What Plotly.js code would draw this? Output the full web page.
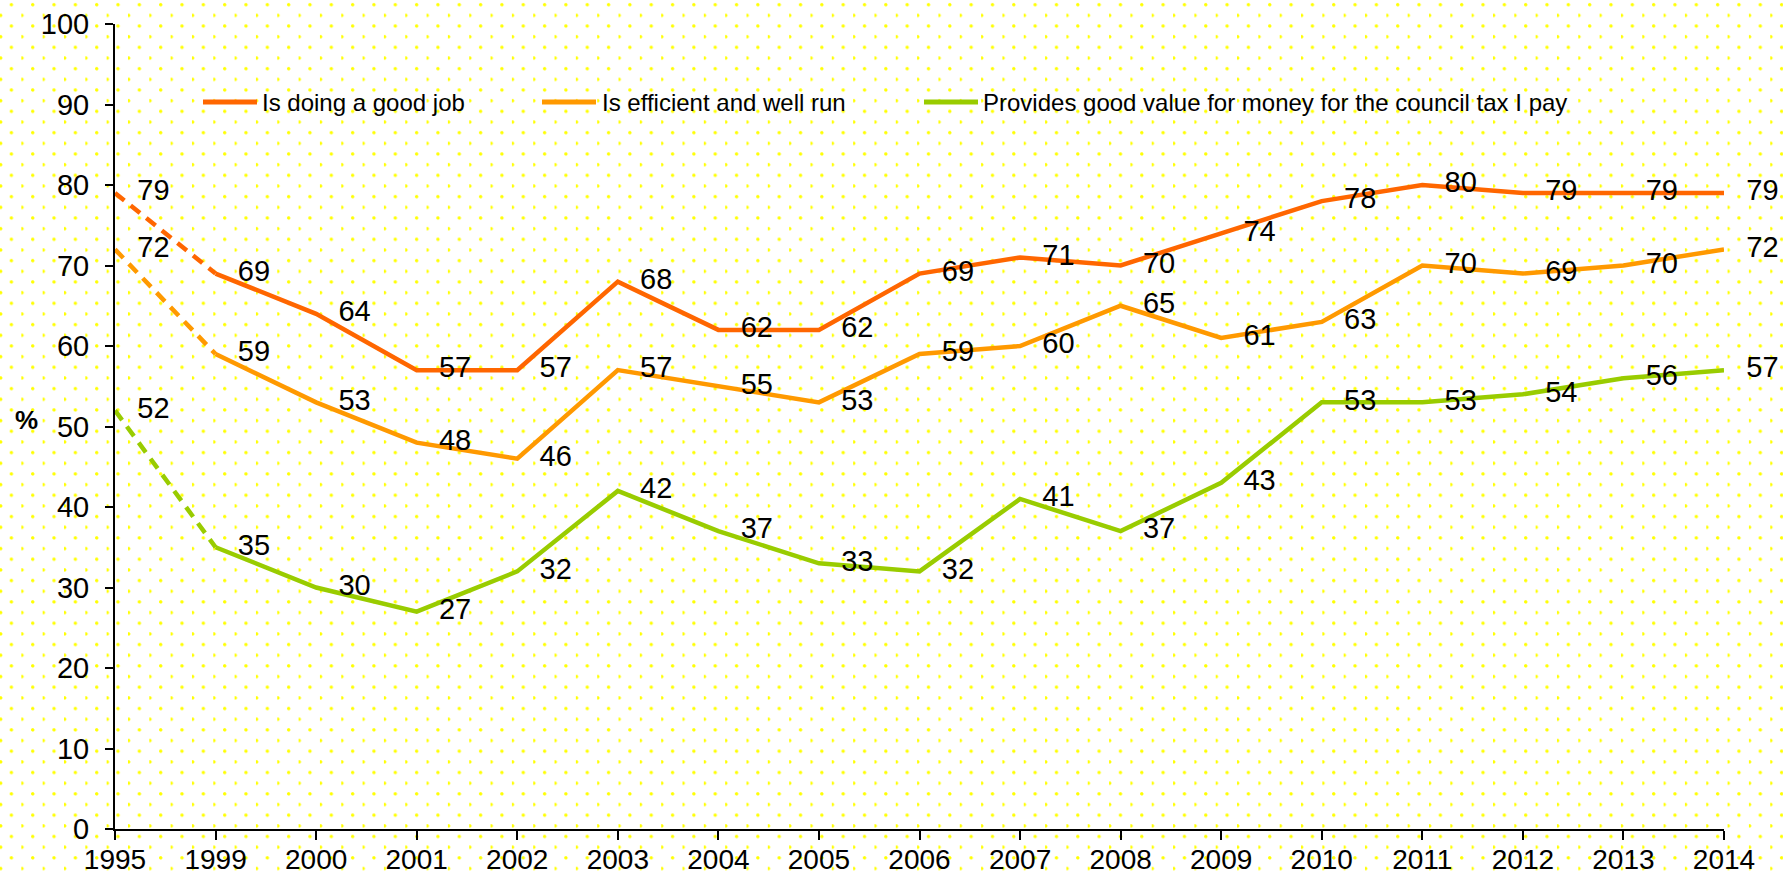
<!DOCTYPE html>
<html>
<head>
<meta charset="utf-8">
<script src="https://cdn.plot.ly/plotly-3.0.1.min.js"></script>
<style>
html, body { margin: 0; padding: 0; background: #ffffff; }
#chart {
  width: 1783px; height: 877px;
  background-color: #ffffff;
  background-image:
    radial-gradient(circle at 0.7px 15.4px, #ffff00 0px, #ffff00 1.2px, rgba(255,255,0,0) 2.1px),
    radial-gradient(circle at 11.4px 4.7px, #ffff00 0px, #ffff00 1.2px, rgba(255,255,0,0) 2.1px);
  background-size: 21.333px 21.333px;
}
</style>
</head>
<body>
<div id="chart"></div>
<script>
// ---- data ----
const years = ['1995','1999','2000','2001','2002','2003','2004','2005','2006','2007','2008','2009','2010','2011','2012','2013','2014'];
const goodJob       = [79, 69, 64, 57, 57, 68, 62, 62, 69, 71, 70, 74, 78, 80, 79, 79, 79];
const efficient     = [72, 59, 53, 48, 46, 57, 55, 53, 59, 60, 65, 61, 63, 70, 69, 70, 72];
const valueForMoney = [52, 35, 30, 27, 32, 42, 37, 33, 32, 41, 37, 43, 53, 53, 54, 56, 57];
const seriesNames = ['Is doing a good job', 'Is efficient and well run', 'Provides good value for money for the council tax I pay'];
const seriesColors = ['#FF6600', '#FF9900', '#99CC00'];
const yTickVals = [0, 10, 20, 30, 40, 50, 60, 70, 80, 90, 100];

const seriesValues = [goodJob, efficient, valueForMoney];
const FONT = 'Arial, "Liberation Sans", sans-serif';

const traces = [];
seriesValues.forEach((vals, i) => {
  // dashed first segment (1995 -> 1999)
  traces.push({
    type: 'scatter', mode: 'lines', x: years.slice(0, 2), y: vals.slice(0, 2),
    line: {color: seriesColors[i], width: 4.5, dash: '12px,8px'},
    name: seriesNames[i], showlegend: false, hoverinfo: 'skip'
  });
  // solid remainder
  traces.push({
    type: 'scatter', mode: 'lines', x: years.slice(1), y: vals.slice(1),
    line: {color: seriesColors[i], width: 4.5},
    name: seriesNames[i], showlegend: false
  });
});
seriesValues.forEach((vals, i) => {
  traces.push({
    type: 'scatter', mode: 'markers+text', x: years, y: vals,
    text: vals.map(String), textposition: 'middle right',
    textfont: {family: FONT, size: 29, color: '#000000'},
    marker: {size: 34, color: 'rgba(0,0,0,0)'},
    cliponaxis: false, showlegend: false, hoverinfo: 'skip'
  });
});

// manual legend (line samples + labels)
const legendX = [[0.05469, 0.08825, 0.09136], [0.26538, 0.29894, 0.30267], [0.50280, 0.53636, 0.53946]];
const legendY = 0.903;
const shapes = legendX.map((p, i) => ({
  type: 'line', xref: 'paper', yref: 'paper', x0: p[0], x1: p[1], y0: legendY, y1: legendY,
  line: {color: seriesColors[i], width: 5}
}));
const annotations = legendX.map((p, i) => ({
  xref: 'paper', yref: 'paper', x: p[2], y: legendY, xanchor: 'left', yanchor: 'middle',
  text: seriesNames[i], showarrow: false, xshift: -2,
  font: {family: FONT, size: 24, color: '#000000'}
}));
annotations.push({
  xref: 'paper', yref: 'paper', x: -0.0553, y: 0.508, xanchor: 'center', yanchor: 'middle',
  text: '<b>%</b>', showarrow: false, font: {family: FONT, size: 26, color: '#000000'}
});

const layout = {
  width: 1783, height: 877,
  paper_bgcolor: 'rgba(0,0,0,0)', plot_bgcolor: 'rgba(0,0,0,0)',
  margin: {l: 115, r: 59, t: 24, b: 48},
  font: {family: FONT, color: '#000000'},
  showlegend: false,
  xaxis: {
    type: 'category', range: [0, years.length - 1], categoryarray: years,
    showline: true, linecolor: '#000000', linewidth: 2,
    ticks: 'outside', ticklen: 9, tickwidth: 2, tickcolor: '#000000',
    showgrid: false, zeroline: false, fixedrange: true,
    ticklabelstandoff: -5,
    tickfont: {family: FONT, size: 28, color: '#000000'}
  },
  yaxis: {
    range: [0, 100], tickmode: 'array', tickvals: yTickVals,
    showline: true, linecolor: '#000000', linewidth: 2,
    ticks: 'outside', ticklen: 8, tickwidth: 2, tickcolor: '#000000',
    showgrid: false, zeroline: false, fixedrange: true,
    ticklabelstandoff: 10,
    tickfont: {family: FONT, size: 29, color: '#000000'}
  },
  shapes: shapes,
  annotations: annotations
};

Plotly.newPlot('chart', traces, layout, {displayModeBar: false, staticPlot: true});
</script>
</body>
</html>
